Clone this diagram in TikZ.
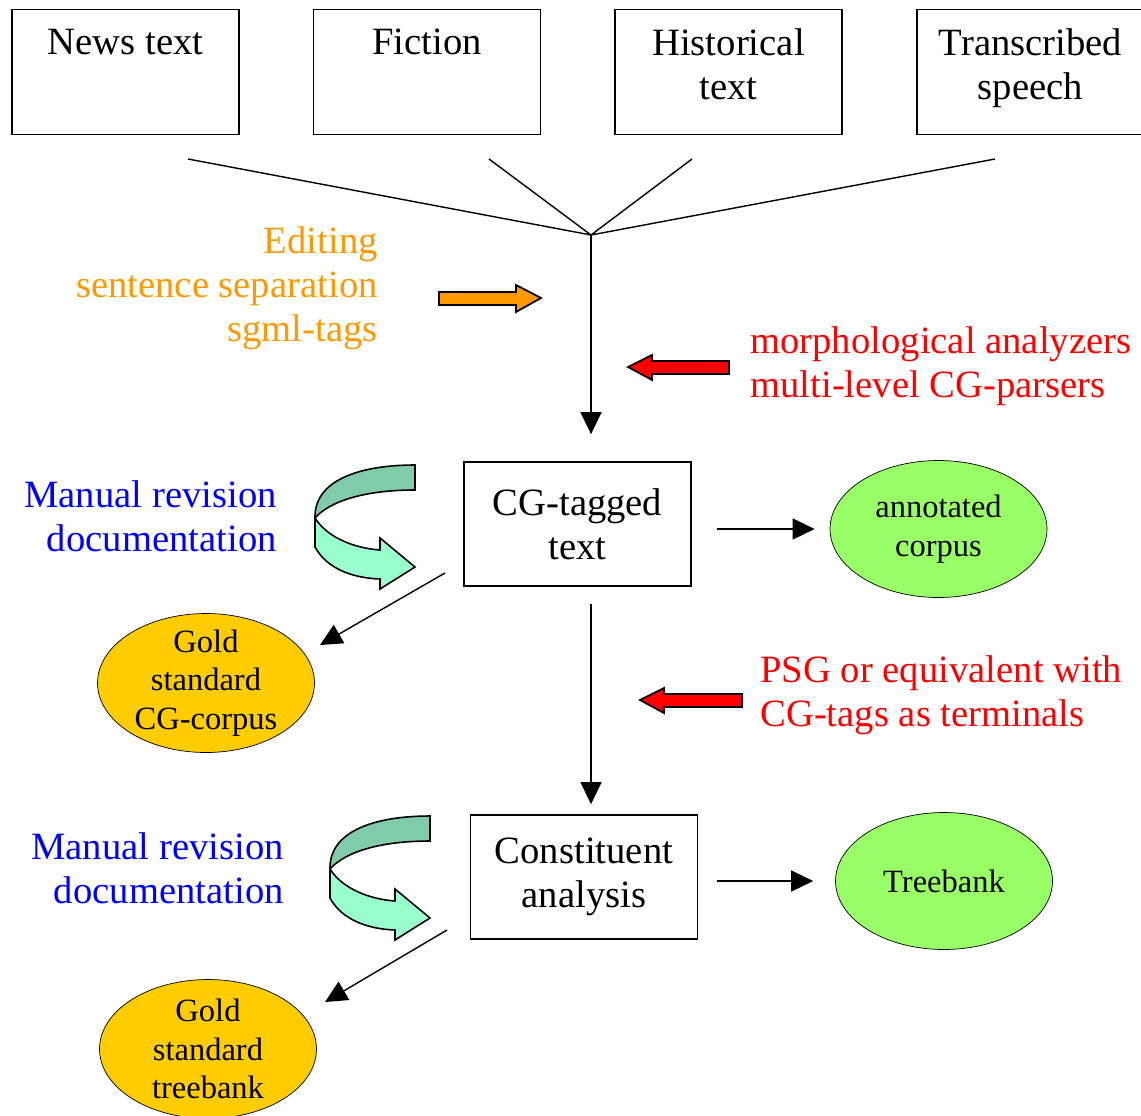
\documentclass[tikz,border=0pt]{standalone}
\usepackage{fontspec}
\setmainfont{Liberation Serif}
\usetikzlibrary{arrows.meta,shapes.geometric}

\definecolor{prodgreen}{RGB}{153,255,102}
\definecolor{goldfill}{RGB}{255,204,0}
\definecolor{editorange}{RGB}{255,153,0}
\definecolor{turndark}{RGB}{128,204,168}
\definecolor{turnlight}{RGB}{153,255,204}

\tikzset{
  big/.style={font=\fontsize{22}{25}\selectfont},
  small/.style={font=\fontsize{18.5}{22}\selectfont},
  src node/.style={draw,line width=1pt,minimum width=4.54cm,minimum height=2.5cm},
  src label/.style={anchor=north,yshift=-0.28cm,align=center,big},
  stage node/.style={draw,line width=1pt,minimum width=4.54cm,minimum height=2.48cm,align=center,big},
  product node/.style={ellipse,draw,fill=prodgreen,inner xsep=0pt,inner ysep=-6pt,
    minimum width=4.34cm,minimum height=2.74cm,align=center,small},
  gold node/.style={ellipse,draw,fill=goldfill,inner xsep=0pt,inner ysep=-6pt,
    minimum width=4.34cm,minimum height=2.78cm,align=center,small},
  tool text/.style={align=left,anchor=west,inner sep=0pt,big},
  work text/.style={align=right,anchor=east,inner sep=0pt,big},
  arr/.style={-{Triangle[length=0.44cm,width=0.42cm]},line width=0.8pt},
  block/.style={draw,line width=1pt},
  uturn/.pic={
    \draw[fill=turndark,line width=0.9pt] (0,0) .. controls (-55,0) and (-101,15) .. (-100,53)
      .. controls (-85,36) and (-50,25) .. (0,25) -- cycle;
    \draw[fill=turnlight,line width=0.9pt] (-100,53) -- (-100,82)
      .. controls (-88,104) and (-62,113) .. (-35,114) -- (-35,124) -- (0,102)
      -- (-35,73) -- (-35,85) .. controls (-62,83) and (-88,72) .. (-100,53) -- cycle;
  }
}

\begin{document}
\begin{tikzpicture}[x=0.02cm,y=-0.02cm]
  \useasboundingbox (0,0) rectangle (1141,1115);

  % sources
  \node[src node,label={[src label]north:News text}]            (news)   at (125.5,72) {};
  \node[src node,label={[src label]north:Fiction}]              (fiction) at (427,72) {};
  \node[src node,label={[src label]north:Historical\\text}]     (hist)   at (728.5,72) {};
  \node[src node,label={[src label]north:Transcribed\\speech}]  (speech) at (1030.5,72) {};

  \coordinate (hub) at (591,235);
  \coordinate (newsend)    at (188,159);
  \coordinate (fictionend) at (489,159);
  \coordinate (histend)    at (692,159);
  \coordinate (speechend)  at (995,159);
  \draw[line width=0.8pt] (newsend) -- (hub) -- (speechend)
    (fictionend) -- (hub) -- (histend);

  % stages
  \node[stage node] (cgtext) at (577.5,524) {CG-tagged\\text};
  \node[stage node] (constit) at (584,877) {Constituent\\analysis};
  \node[product node] (annot) at (938.5,529) {annotated\\corpus};
  \node[product node] (treebank) at (944,881) {Treebank};
  \node[gold node] (goldcg) at (206,683) {Gold\\standard\\CG-corpus};
  \node[gold node] (goldtb) at (208,1049) {Gold\\standard\\treebank};

  \draw[arr] (hub) -- (hub |- cgtext.north) [shorten >=0.54cm];
  \draw[arr,shorten <=0.34cm,shorten >=0.2cm] (hub |- cgtext.south) -- (hub |- constit.north);
  \draw[arr,shorten <=0.5cm,shorten >=0.3cm] (cgtext.east |- annot.west) -- (annot.west);
  \draw[arr,shorten <=0.38cm,shorten >=0.44cm] (constit.east |- treebank.west) -- (treebank.west);

  \coordinate (cgout) at (445,573);
  \coordinate (cgin)  at (320,645);
  \coordinate (tbout) at (447,930);
  \coordinate (tbin)  at (325,1002);
  \draw[arr] (cgout) -- (cgin);
  \draw[arr] (tbout) -- (tbin);

  % texts
  \node[work text,text=editorange] (edit) at (378,288) {Editing\\sentence separation\\sgml-tags};
  \node[tool text,text=red] (morph) at (750,366) {morphological analyzers\\multi-level CG-parsers};
  \node[tool text,text=red] (psg) at (760,695) {PSG or equivalent with\\CG-tags as terminals};
  \node[work text,text=blue] (manual1) at (277,516) {Manual revision\\documentation};
  \node[work text,text=blue] (manual2) at (284,868) {Manual revision\\documentation};

  % block arrows
  \draw[block,fill=editorange] (541,298) -- ++(-25,-13) -- ++(0,7) -- ++(-77,0)
    -- ++(0,13) -- ++(77,0) -- ++(0,7) -- cycle;
  \draw[block,fill=red] (628,367) -- ++(24,-12) -- ++(0,6) -- ++(77,0)
    -- ++(0,13) -- ++(-77,0) -- ++(0,6) -- cycle;
  \draw[block,fill=red] (640,700) -- ++(24,-12) -- ++(0,6) -- ++(78,0)
    -- ++(0,13) -- ++(-78,0) -- ++(0,6) -- cycle;

  \pic at (415,465) {uturn};
  \pic at (430,816) {uturn};
\end{tikzpicture}
\end{document}
